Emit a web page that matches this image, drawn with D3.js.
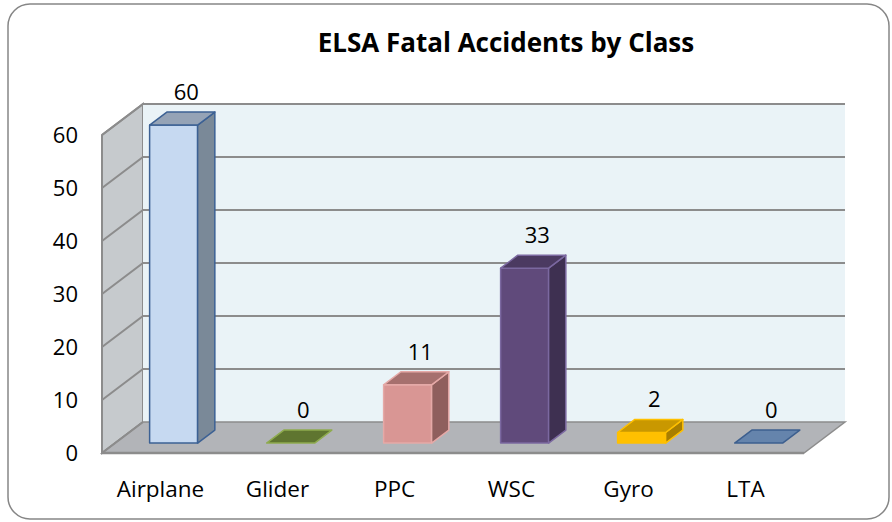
<!DOCTYPE html>
<html>
<head>
<meta charset="utf-8">
<script src="https://cdn.jsdelivr.net/npm/d3@7"></script>
<style>
  body { margin: 0; background: #fff; }
  text { font-family: "Open Sans", sans-serif; fill: #000; }
</style>
</head>
<body>
<div class="chart"></div>
<script>
// chart data
var categories = ["Airplane", "Glider", "PPC", "WSC", "Gyro", "LTA"];
var accidents = [60, 0, 11, 33, 2, 0];
var yTicks = [0, 10, 20, 30, 40, 50, 60];
var chartTitle = "ELSA Fatal Accidents by Class";

// colours per bar: front, top, side, outline
var barColors = [
  { front: "#c6d9f1", top: "#95a3b6", side: "#7a8998", stroke: "#3c6194" },
  { front: "#5f7530", top: "#5f7530", side: "#4d6026", stroke: "#8eab4e" },
  { front: "#d99694", top: "#a6706e", side: "#8f5f5d", stroke: "#e5a9a7" },
  { front: "#604a7b", top: "#4b3a61", side: "#3e3051", stroke: "#7b68a0" },
  { front: "#ffc000", top: "#c99800", side: "#a87e00", stroke: "#ffc000" },
  { front: "#6584ac", top: "#6584ac", side: "#4f6a8e", stroke: "#3d5f8e" }
];

var width = 892, height = 522;

var svg = d3.select(".chart").append("svg")
  .attr("width", width)
  .attr("height", height);

// outer frame
svg.append("rect")
  .attr("x", 8).attr("y", 4)
  .attr("width", 881).attr("height", 515)
  .attr("rx", 22).attr("ry", 22)
  .attr("fill", "#fff")
  .attr("stroke", "#868686")
  .attr("stroke-width", 1.5);

// front plane scales
var x = d3.scaleBand()
  .domain(categories)
  .range([102, 804]);

var y = d3.scaleLinear()
  .domain([0, 60])
  .range([453, 135]);

// depth offset of the back wall
var depthX = 41, depthY = -31;
function px(xv, z) { return xv + z * depthX; }
function py(yv, z) { return yv + z * depthY; }
function pts(arr) { return arr.map(function(p) { return p.join(","); }).join(" "); }

var x0 = x.range()[0], x1 = x.range()[1];
var yTop = y(60), yBot = y(0);

// side wall
svg.append("polygon")
  .attr("points", pts([[x0, yBot], [x0, yTop], [px(x0, 1), py(yTop, 1)], [px(x0, 1), py(yBot, 1)]]))
  .attr("fill", "#c6cacd")
  .attr("stroke", "#8c8c8c").attr("stroke-width", 2);

// back wall
svg.append("polygon")
  .attr("points", pts([[px(x0, 1), py(yTop, 1)], [px(x1, 1), py(yTop, 1)], [px(x1, 1), py(yBot, 1)], [px(x0, 1), py(yBot, 1)]]))
  .attr("fill", "#eaf3f7");

// floor
svg.append("polygon")
  .attr("points", pts([[x0, yBot], [px(x0, 1), py(yBot, 1)], [px(x1, 1), py(yBot, 1)], [x1, yBot]]))
  .attr("fill", "#b2b4b8")
  .attr("stroke", "#8c8c8c").attr("stroke-width", 1.5);

// gridlines on walls
var grid = svg.append("g").attr("fill", "none").attr("stroke", "#8c8c8c").attr("stroke-width", 2);
yTicks.forEach(function(t) {
  if (t === 0) return;
  grid.append("polyline")
    .attr("points", pts([[x0, y(t)], [px(x0, 1), py(y(t), 1)], [px(x1, 1), py(y(t), 1)]]));
});
grid.append("line")
  .attr("x1", x0).attr("y1", yBot).attr("x2", x1).attr("y2", yBot)
  .attr("stroke-width", 2.5);
grid.append("line")
  .attr("x1", x0).attr("y1", yBot).attr("x2", x0).attr("y2", yTop);
grid.append("line")
  .attr("x1", x0).attr("y1", yBot).attr("x2", px(x0, 1)).attr("y2", py(yBot, 1));

// y axis labels
svg.append("g").selectAll("text")
  .data(yTicks)
  .enter().append("text")
  .attr("x", 78)
  .attr("y", d => y(d))
  .attr("dy", "0.36em")
  .attr("text-anchor", "end")
  .attr("font-size", "22px")
  .text(d => d);

// bars
var zF = 0.32, zB = 0.74, barW = 48;
var bars = svg.append("g");
categories.forEach(function(c, i) {
  var v = accidents[i], col = barColors[i];
  var cx = x(c) + x.bandwidth() / 2 + zF * depthX;
  var l = cx - barW / 2, r = cx + barW / 2;
  var b = py(y(0), zF), t = py(y(v), zF);
  var dx = (zB - zF) * depthX, dy = (zB - zF) * depthY;
  var g = bars.append("g").attr("stroke", col.stroke).attr("stroke-width", 1.5).attr("stroke-linejoin", "round");
  if (v > 0) {
    g.append("polygon").attr("points", pts([[l, b], [l, t], [r, t], [r, b]])).attr("fill", col.front);
    g.append("polygon").attr("points", pts([[r, b], [r, t], [r + dx, t + dy], [r + dx, b + dy]])).attr("fill", col.side);
  }
  g.append("polygon").attr("points", pts([[l, t], [l + dx, t + dy], [r + dx, t + dy], [r, t]])).attr("fill", col.top);

  // value label
  bars.append("text")
    .attr("x", cx + dx / 2 + 4)
    .attr("y", t + dy - 12)
    .attr("text-anchor", "middle")
    .attr("font-size", "22px")
    .text(v);
});

// category labels
svg.append("g").selectAll("text")
  .data(categories)
  .enter().append("text")
  .attr("x", d => x(d) + x.bandwidth() / 2)
  .attr("y", 497)
  .attr("text-anchor", "middle")
  .attr("font-size", "22.5px")
  .text(d => d);

// title
svg.append("text")
  .attr("x", 506)
  .attr("y", 52)
  .attr("text-anchor", "middle")
  .attr("font-size", "26px")
  .attr("font-weight", "bold")
  .text(chartTitle);
</script>
</body>
</html>
